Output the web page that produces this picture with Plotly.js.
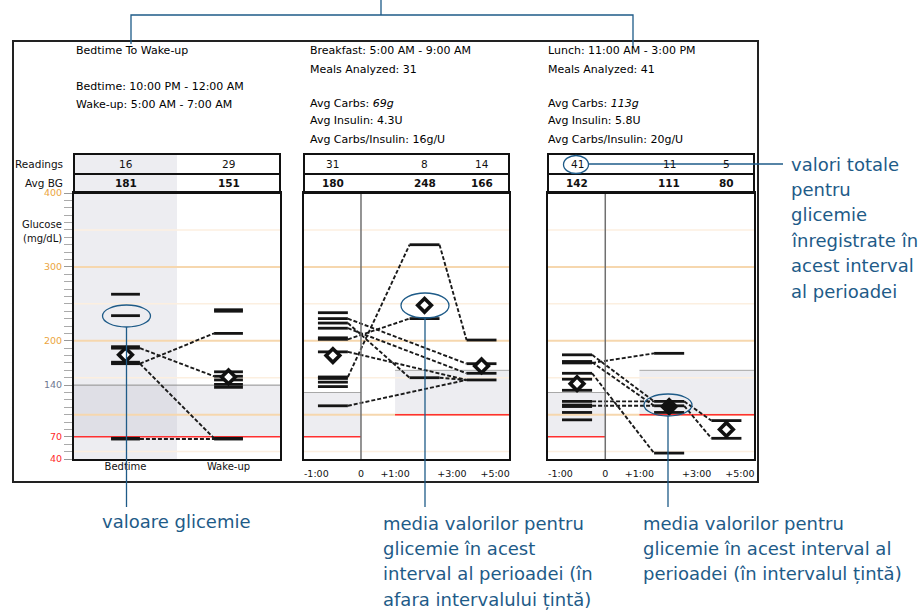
<!DOCTYPE html>
<html><head><meta charset="utf-8">
<script src="https://cdn.plot.ly/plotly-3.0.1.min.js"></script>
<style>html,body{margin:0;padding:0;background:#fff}</style>
</head><body><div id="chart" style="width:922px;height:610px"></div>
<script>
// ---------------- DATA ----------------
const nightTitle = 'Bedtime To Wake-up';
const nightTimes = ['Bedtime: 10:00 PM - 12:00 AM', 'Wake-up: 5:00 AM - 7:00 AM'];
const nightColumns = ['Bedtime', 'Wake-up'];
const nightReadings = [16, 29];
const nightAvgBG = [181, 151];
const bedtimeValues = [263, 234, 192, 190, 171, 169, 68, 67];
const wakeupValues = [242, 240, 210, 158, 152, 147, 141, 137, 68, 67];
const nightPairs = [[190, 152], [169, 210], [169, 68], [67, 67]];
const nightTarget = [70, 140];

const mealNames = ['Breakfast: 5:00 AM - 9:00 AM', 'Lunch: 11:00 AM - 3:00 PM'];
const mealsAnalyzed = [31, 41];
const avgCarbs = ['69g', '113g'];
const avgInsulin = ['4.3U', '5.8U'];
const avgRatio = ['16g/U', '20g/U'];

const breakfastReadings = [31, 8, 14];
const breakfastAvgBG = [180, 248, 166];
const breakfastPre = [238, 230, 224, 217, 204, 202, 185, 151, 149, 144, 138, 112];
const breakfastPost1 = [330, 230, 150];
const breakfastPost2 = [201, 169, 156, 147];
const breakfastPaths = [[151, 330, 201], [202, 230, null], [230, null, 169], [224, 150, 147], [217, null, 156], [185, null, 147], [112, null, 147]];

const lunchReadings = [41, 11, 5];
const lunchAvgBG = [142, 111, 80];
const lunchPre = [181, 172, 170, 156, 148, 133, 118, 113, 111, 103, 93];
const lunchPost1 = [183, 118, 112, 103, 48];
const lunchPost2 = [92, 68];
const lunchPaths = [[181, 118, 92], [171, 112, 68], [170, 183, null], [156, 48, null], [112, 112, null], [118, 118, null]];

const preTarget = [70, 130];
const postTarget = [100, 160];
const mealTickLabels = ['-1:00', '0', '+1:00', '+3:00', '+5:00'];
const yTickVals = [40, 70, 140, 200, 300, 400];
const gridLevels = [50, 100, 150, 200, 250, 300, 350];

const calloutRight = ['valori totale', 'pentru', 'glicemie', 'înregistrate în', 'acest interval', 'al perioadei'];
const calloutLeft = ['valoare glicemie'];
const calloutMid = ['media valorilor pentru', 'glicemie în acest', 'interval al perioadei (în', 'afara intervalului țintă)'];
const calloutEnd = ['media valorilor pentru', 'glicemie în acest interval al', 'perioadei (în intervalul țintă)'];

// ---------------- LAYOUT CONSTANTS ----------------
const W = 922, H = 610;
const X = p => p / W, Y = p => 1 - p / H;
const FONT = 'DejaVu Sans, Liberation Sans, Arial, sans-serif';
const BLUE = '#1e5b88';
const plotTop = 193, plotBottom = 459, tableTop = 154, tableMid = 174;
const nightCenters = [25, 75], nightHW = 7;
const mealCenters = [14.1, 58.8, 86.6], mealHW = 7.3;
const mealTickPos = [6, 27.8, 44.4, 72.2, 93.2];
const zeroPos = 27.8, postStart = 44.4;
const panels = [
  {xa: 'x', ya: 'y', left: 74, right: 280},
  {xa: 'x2', ya: 'y2', left: 304, right: 509},
  {xa: 'x3', ya: 'y3', left: 548, right: 754}
];

// ---------------- TRACES ----------------
const traces = [];
function bars(cols, centers, hw, xa, ya) {
  const xs = [], ys = [];
  cols.forEach((vals, i) => vals.forEach(v => { xs.push(centers[i] - hw, centers[i] + hw, null); ys.push(v, v, null); }));
  traces.push({type: 'scatter', mode: 'lines', x: xs, y: ys, xaxis: xa, yaxis: ya,
    line: {color: '#151515', width: 2.8}, hoverinfo: 'skip'});
}
function links(paths, centers, hw, xa, ya) {
  const xs = [], ys = [];
  paths.forEach(p => {
    const pts = [];
    p.forEach((v, i) => { if (v !== null) pts.push([i, v]); });
    for (let k = 0; k < pts.length - 1; k++) {
      const [i, a] = pts[k], [j, b] = pts[k + 1];
      xs.push(centers[i] + hw, centers[j] - hw, null); ys.push(a, b, null);
    }
  });
  traces.push({type: 'scatter', mode: 'lines', x: xs, y: ys, xaxis: xa, yaxis: ya,
    line: {color: '#1a1a1a', width: 1.9, dash: '4px,2px'}, hoverinfo: 'skip'});
}
function diamonds(avgs, centers, targets, xa, ya) {
  traces.push({type: 'scatter', mode: 'markers', x: centers, y: avgs, xaxis: xa, yaxis: ya,
    marker: {symbol: 'diamond', size: 10.5,
      color: avgs.map((v, i) => (v >= targets[i][0] && v <= targets[i][1]) ? '#111' : '#fff'),
      line: {color: '#111', width: 3.6}}, hoverinfo: 'skip'});
}
bars([bedtimeValues, wakeupValues], nightCenters, nightHW, 'x', 'y');
links(nightPairs, nightCenters, nightHW, 'x', 'y');
diamonds(nightAvgBG, nightCenters, [nightTarget, nightTarget], 'x', 'y');
bars([breakfastPre, breakfastPost1, breakfastPost2], mealCenters, mealHW, 'x2', 'y2');
links(breakfastPaths, mealCenters, mealHW, 'x2', 'y2');
diamonds(breakfastAvgBG, mealCenters, [preTarget, postTarget, postTarget], 'x2', 'y2');
bars([lunchPre, lunchPost1, lunchPost2], mealCenters, mealHW, 'x3', 'y3');
links(lunchPaths, mealCenters, mealHW, 'x3', 'y3');
diamonds(lunchAvgBG, mealCenters, [preTarget, postTarget, postTarget], 'x3', 'y3');

// ---------------- SHAPES ----------------
const shapes = [];
const GRAY = 'rgba(185,185,198,0.25)';
shapes.push({type: 'rect', layer: 'below', xref: 'x', yref: 'y domain', x0: 0, x1: 50, y0: 0, y1: 1, fillcolor: GRAY, line: {width: 0}});
shapes.push({type: 'rect', layer: 'below', xref: 'x', yref: 'y', x0: 0, x1: 100, y0: nightTarget[0], y1: nightTarget[1], fillcolor: GRAY, line: {width: 0}});
['2', '3'].forEach(n => {
  shapes.push({type: 'rect', layer: 'below', xref: 'x' + n, yref: 'y' + n, x0: 0, x1: zeroPos, y0: preTarget[0], y1: preTarget[1], fillcolor: GRAY, line: {width: 0}});
  shapes.push({type: 'rect', layer: 'below', xref: 'x' + n, yref: 'y' + n, x0: postStart, x1: 100, y0: postTarget[0], y1: postTarget[1], fillcolor: GRAY, line: {width: 0}});
});
panels.forEach(p => gridLevels.forEach(v => {
  const major = v % 100 === 0;
  shapes.push({type: 'line', layer: 'below', xref: p.xa, yref: p.ya, x0: 0, x1: 100, y0: v, y1: v,
    line: {color: major ? '#f6d7ae' : '#fcefe0', width: major ? 2 : 1.5}});
}));
shapes.push({type: 'line', layer: 'below', xref: 'x', yref: 'y', x0: 0, x1: 100, y0: nightTarget[1], y1: nightTarget[1], line: {color: '#8f8f8f', width: 1}});
shapes.push({type: 'line', layer: 'below', xref: 'x', yref: 'y', x0: 0, x1: 100, y0: nightTarget[0], y1: nightTarget[0], line: {color: '#ff3030', width: 1.5}});
['2', '3'].forEach(n => {
  shapes.push({type: 'line', layer: 'below', xref: 'x' + n, yref: 'y' + n, x0: 0, x1: zeroPos, y0: preTarget[1], y1: preTarget[1], line: {color: '#a8a8a8', width: 1}});
  shapes.push({type: 'line', layer: 'below', xref: 'x' + n, yref: 'y' + n, x0: 0, x1: zeroPos, y0: preTarget[0], y1: preTarget[0], line: {color: '#ff3030', width: 1.5}});
  shapes.push({type: 'line', layer: 'below', xref: 'x' + n, yref: 'y' + n, x0: postStart, x1: 100, y0: postTarget[1], y1: postTarget[1], line: {color: '#a8a8a8', width: 1}});
  shapes.push({type: 'line', layer: 'below', xref: 'x' + n, yref: 'y' + n, x0: postStart, x1: 100, y0: postTarget[0], y1: postTarget[0], line: {color: '#ff3030', width: 1.5}});
  shapes.push({type: 'line', xref: 'x' + n, yref: 'y' + n + ' domain', x0: zeroPos, x1: zeroPos, y0: 0, y1: 1, line: {color: '#707070', width: 1.5}});
});
shapes.push({type: 'rect', layer: 'below', xref: 'x', yref: 'paper', x0: 0, x1: 50, y0: Y(plotTop), y1: Y(tableTop), fillcolor: GRAY, line: {width: 0}});
panels.forEach(p => {
  shapes.push({type: 'rect', xref: p.xa + ' domain', yref: 'paper', x0: 0, x1: 1, y0: Y(plotTop), y1: Y(tableTop), line: {color: '#111', width: 2}});
  shapes.push({type: 'line', xref: p.xa + ' domain', yref: 'paper', x0: 0, x1: 1, y0: Y(tableMid), y1: Y(tableMid), line: {color: '#111', width: 2}});
});
shapes.push({type: 'rect', xref: 'paper', yref: 'paper', x0: X(13), x1: X(758), y0: Y(482), y1: Y(41), line: {color: '#222', width: 2}});
shapes.push({type: 'path', xref: 'paper', yref: 'paper', line: {color: BLUE, width: 1.3},
  path: `M ${X(131)},${Y(44)} L ${X(131)},${Y(15)} L ${X(633)},${Y(15)} L ${X(633)},${Y(48)} M ${X(381)},${Y(0)} L ${X(381)},${Y(15)}`});
function ellipse(cx, cy, rx, ry) {
  shapes.push({type: 'circle', xref: 'paper', yref: 'paper', x0: X(cx - rx), x1: X(cx + rx), y0: Y(cy + ry), y1: Y(cy - ry), line: {color: BLUE, width: 1.3}});
}
function seg(x0, y0, x1, y1) {
  shapes.push({type: 'line', xref: 'paper', yref: 'paper', x0: X(x0), x1: X(x1), y0: Y(y0), y1: Y(y1), line: {color: BLUE, width: 1.3}});
}
ellipse(126.5, 316, 24, 11); seg(126.5, 327, 126.5, 507);
ellipse(425, 305.5, 24, 12.5); seg(425, 318, 425, 507);
ellipse(668, 405, 24, 11); seg(668, 416, 668, 507);
ellipse(576, 164.5, 12.5, 9); seg(588.5, 164, 783, 164);

// ---------------- ANNOTATIONS ----------------
const ann = [];
function txt(x, y, text, opts = {}) {
  ann.push(Object.assign({xref: 'paper', yref: 'paper', x: X(x), y: Y(y), text: text, showarrow: false,
    xanchor: 'left', yanchor: 'middle', font: {family: FONT, size: 11, color: '#000'}}, opts));
}
txt(74, 50.7, nightTitle);
txt(74, 86, nightTimes[0]);
txt(74, 104, nightTimes[1]);
[308, 546].forEach((x, i) => {
  txt(x, 50.7, mealNames[i]);
  txt(x, 69, 'Meals Analyzed: ' + mealsAnalyzed[i]);
  txt(x, 103, 'Avg Carbs: <i>' + avgCarbs[i] + '</i>');
  txt(x, 121, 'Avg Insulin: ' + avgInsulin[i]);
  txt(x, 139, 'Avg Carbs/Insulin: ' + avgRatio[i]);
});
txt(65, 163.5, 'Readings', {xanchor: 'right', font: {family: FONT, size: 10.5, color: '#111'}});
txt(65, 182.5, 'Avg BG', {xanchor: 'right', font: {family: FONT, size: 10.5, color: '#111'}});
txt(64, 224, 'Glucose', {xanchor: 'right', font: {family: FONT, size: 10, color: '#111'}});
txt(64, 238, '(mg/dL)', {xanchor: 'right', font: {family: FONT, size: 10, color: '#111'}});
function tableText(xa, centers, readings, avgs) {
  centers.forEach((c, i) => {
    ann.push({xref: xa, yref: 'paper', x: c, y: Y(163.5), text: String(readings[i]), showarrow: false, yanchor: 'middle', font: {family: FONT, size: 10.5, color: '#111'}});
    ann.push({xref: xa, yref: 'paper', x: c, y: Y(183), text: '<b>' + avgs[i] + '</b>', showarrow: false, yanchor: 'middle', font: {family: FONT, size: 10.5, color: '#111'}});
  });
}
tableText('x', nightCenters, nightReadings, nightAvgBG);
tableText('x2', mealCenters, breakfastReadings, breakfastAvgBG);
tableText('x3', mealCenters, lunchReadings, lunchAvgBG);

const LS = 25.4;
const bf = {family: FONT, size: 18, color: BLUE};
calloutRight.forEach((t, i) => txt(789, 164 + i * LS, t, {font: bf}));
calloutLeft.forEach((t, i) => txt(100, 521 + i * LS, t, {font: bf}));
calloutMid.forEach((t, i) => txt(381, 523 + i * LS, t, {font: bf}));
calloutEnd.forEach((t, i) => txt(641, 523 + i * LS, t, {font: bf}));

// ---------------- AXES ----------------
const yDom = [1 - plotBottom / H, 1 - plotTop / H];
const yColors = {40: '#ff2a2a', 70: '#ff2a2a', 140: '#6f7890', 200: '#eba43e', 300: '#eba43e', 400: '#eba43e'};
const baseX = {range: [0, 100], showgrid: false, zeroline: false, showline: true, mirror: true, linecolor: '#111', linewidth: 2,
  fixedrange: true, tickfont: {family: FONT, size: 9.5, color: '#111'}, ticks: 'outside', tickcolor: 'rgba(0,0,0,0)'};
const baseY = {range: [40, 400], domain: yDom, showgrid: false, zeroline: false, showline: true, mirror: true, linecolor: '#111', linewidth: 2, fixedrange: true};
const layout = {
  width: W, height: H, margin: {l: 0, r: 0, t: 0, b: 0}, showlegend: false,
  paper_bgcolor: '#fff', plot_bgcolor: 'rgba(0,0,0,0)', font: {family: FONT},
  xaxis: Object.assign({}, baseX, {domain: [X(74), X(280)], anchor: 'y', tickmode: 'array', tickvals: nightCenters, ticktext: nightColumns, ticks: '', ticklabelstandoff: -3, tickfont: {family: FONT, size: 10, color: '#111'}}),
  yaxis: Object.assign({}, baseY, {anchor: 'x', tickmode: 'array', tickvals: yTickVals,
    ticktext: yTickVals.map(v => `<span style="color:${yColors[v]}">${v}</span>`),
    ticks: 'outside', ticklen: 8, tickcolor: '#999', tickwidth: 1, tickfont: {family: FONT, size: 9.5},
    minor: {dtick: 10, tick0: 0, ticks: 'outside', ticklen: 8, tickcolor: '#aaa', tickwidth: 1, showgrid: false}}),
  xaxis2: Object.assign({}, baseX, {domain: [X(304), X(509)], anchor: 'y2', tickmode: 'array', tickvals: mealTickPos, ticktext: mealTickLabels, ticklen: 5}),
  yaxis2: Object.assign({}, baseY, {anchor: 'x2', showticklabels: false, ticks: ''}),
  xaxis3: Object.assign({}, baseX, {domain: [X(548), X(754)], anchor: 'y3', tickmode: 'array', tickvals: mealTickPos, ticktext: mealTickLabels, ticklen: 5}),
  yaxis3: Object.assign({}, baseY, {anchor: 'x3', showticklabels: false, ticks: ''}),
  shapes: shapes, annotations: ann
};
Plotly.newPlot('chart', traces, layout, {staticPlot: true, displayModeBar: false});
</script></body></html>
